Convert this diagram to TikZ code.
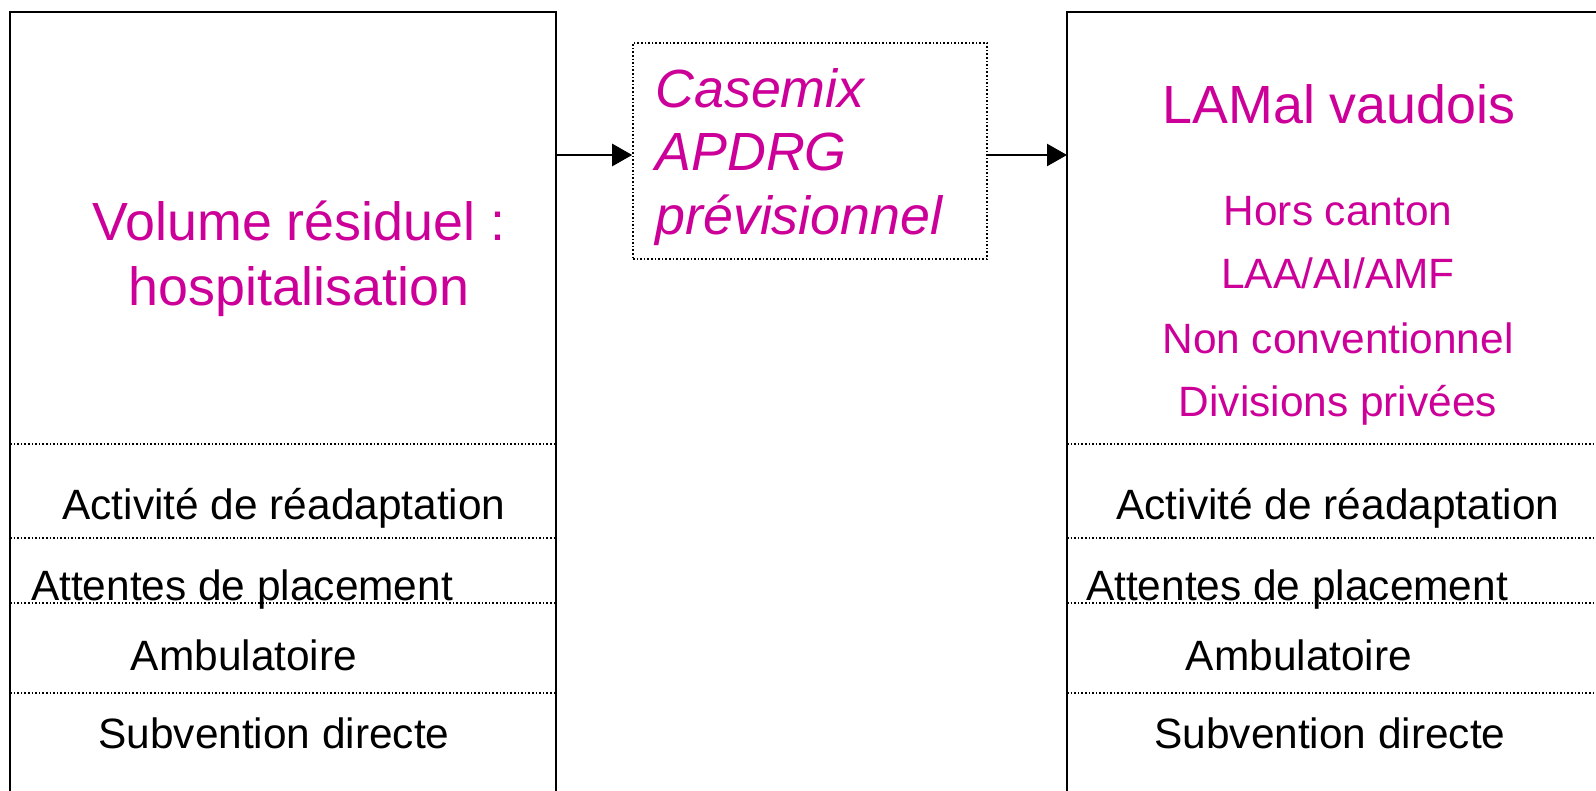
\documentclass[tikz,border=0pt]{standalone}
\usepackage{fontspec}
\setmainfont{Liberation Sans}
\usepackage{tikz}
\usetikzlibrary{arrows.meta,positioning}
\definecolor{rose}{HTML}{CC0099}

\begin{document}
\begin{tikzpicture}[x=0.5pt,y=-0.5pt]
\tikzstyle{column}=[rectangle, draw=black, line width=1.3pt, outer sep=0pt, anchor=north west, minimum height=450pt]
\tikzstyle{plan}=[rectangle, draw=black, line width=0.8pt, dash pattern=on 0.8pt off 1pt, minimum width=177pt, minimum height=108pt]
\tikzstyle{sep}=[line width=0.8pt, dash pattern=on 0.8pt off 1pt]
\tikzstyle{title}=[text=rose, font=\fontsize{26.9}{32}\selectfont, anchor=base, inner sep=0pt]
\tikzstyle{slant}=[title, font=\fontsize{26.9}{32}\selectfont\itshape, anchor=base west]
\tikzstyle{sub}=[text=rose, font=\fontsize{21.2}{25}\selectfont, anchor=base, inner sep=0pt]
\tikzstyle{item}=[font=\fontsize{21.2}{25}\selectfont, anchor=base, inner sep=0pt]
\tikzstyle{connect}=[-{Triangle[length=10pt,width=11pt]}, line width=1.3pt]

  \clip (0,0) rectangle (1596,791);

  % the two columns and the plan between them
  \node[column, minimum width=273pt] (lcol) at (10,12) {};
  \node[column, minimum width=300pt] (rcol) at (1067,12) {};
  \node[plan] (plan) at (810,151) {};
  \coordinate (flow) at (0,155);

  \foreach \y in {444,538,603,693} {
    \draw[sep] (lcol.west |- 0,\y) -- (lcol.east |- 0,\y);
    \draw[sep] (rcol.west |- 0,\y) -- (1596,\y);
  }

  % left column
  \node[title] (vol)  at (299,241) {Volume résiduel :};
  \node[title] (hosp) at (299,306) {hospitalisation};
  \node[item] (l1) at (284,519) {Activité de réadaptation};
  \node[item] (l2) at (242,600) {Attentes de placement};
  \node[item] (l3) at (244,670) {Ambulatoire};
  \node[item] (l4) at (274,748) {Subvention directe};

  % plan
  \node[slant] (cmx)  at (655,108) {Casemix};
  \node[slant] (drg)  at (655,171) {APDRG};
  \node[slant] (prev) at (655,235) {prévisionnel};

  % right column
  \node[title] (lamal) at (1339,124) {LAMal vaudois};
  \node[sub] (r1) at (1338,226) {Hors canton};
  \node[sub] (r2) at (1338,289) {LAA/AI/AMF};
  \node[sub] (r3) at (1338,353) {Non conventionnel};
  \node[sub] (r4) at (1338,416) {Divisions privées};
  \node[item] (m1) at (1338,519) {Activité de réadaptation};
  \node[item] (m2) at (1297,600) {Attentes de placement};
  \node[item] (m3) at (1299,670) {Ambulatoire};
  \node[item] (m4) at (1330,748) {Subvention directe};

  \draw[connect] (lcol.east |- flow) -- (plan.west |- flow);
  \draw[connect] (plan.east |- flow) -- (rcol.west |- flow);

\end{tikzpicture}
\end{document}
